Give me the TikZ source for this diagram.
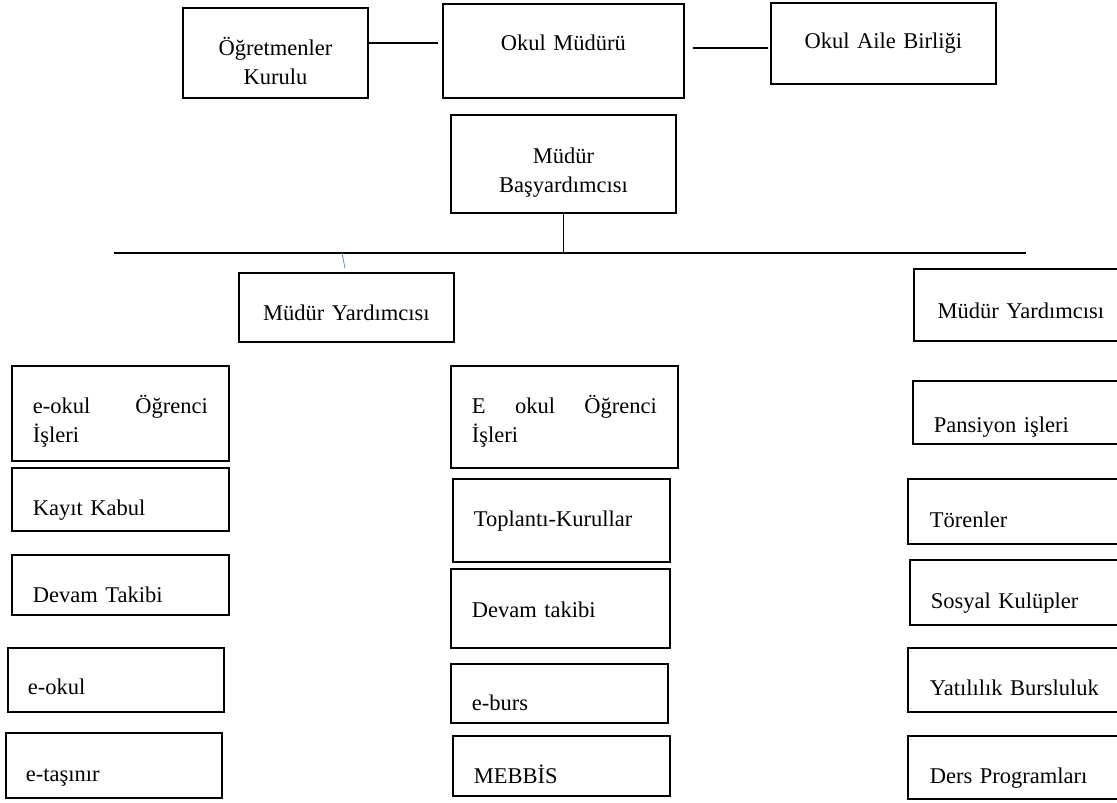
\documentclass[tikz,border=0pt]{standalone}
\usepackage{fontspec}
\setmainfont{Liberation Serif}
\usetikzlibrary{positioning, calc}
\definecolor{tickblue}{HTML}{5B9BD5}
\newdimen\pxu \pxu=0.025cm
\tikzstyle{orgbox} = [draw, line width=1.3pt, inner ysep=0pt, anchor=north west, font=\fontsize{16}{20}\selectfont]
\tikzstyle{link} = [line width=1.3pt]
\tikzstyle{tick} = [line width=0.6pt, tickblue]
\tikzset{cell/.style n args={4}{text width=#1\pxu, inner xsep=#2\pxu, text height=#3\pxu, text depth=#4\pxu}}

\begin{document}
\begin{tikzpicture}[x=0.025cm, y=-0.025cm]
        \useasboundingbox (0,0) rectangle (1117,802);
        \fill[white] (0,0) rectangle (1117,802);
        \clip (0,0) rectangle (1117,802);

        % Top row
        \node[orgbox, cell={175}{5}{48}{42}, align=center] (ogretmen) at (182,7) {Öğretmenler\\Kurulu};
        \node[orgbox, cell={231}{5}{47}{47}, align=center] (mudur) at (442,3) {Okul Müdürü};
        \node[orgbox, cell={215}{5}{46}{35}, align=center] (aile) at (770,2) {Okul Aile Birliği};

        % Deputy head
        \node[orgbox, cell={215}{5}{49}{49}, align=center] (basyard) at (450,114) {Müdür\\Başyardımcısı};

        % Assistants
        \node[orgbox, cell={205}{5}{48}{21}, align=center] (yard1) at (238,272) {Müdür Yardımcısı};
        \node[orgbox, cell={204}{5}{50}{22}, align=center] (yard2) at (913,268) {Müdür Yardımcısı};

        % Left column
        \node[orgbox, cell={175}{21}{48}{47}, align=left] (sol1) at (11,365) {e-okul\hfill Öğrenci\\İşleri};
        \node[orgbox, cell={175}{21}{48}{15}, align=left] (sol2) at (11,467) {Kayıt Kabul};
        \node[orgbox, cell={175}{21}{48}{12}, align=left] (sol3) at (11,554) {Devam Takibi};
        \node[orgbox, cell={176}{20}{47}{17}, align=left] (sol4) at (7,647) {e-okul};
        \node[orgbox, cell={176}{20}{49}{16}, align=left] (sol5) at (5,732) {e-taşınır};

        % Middle column
        \node[orgbox, cell={185}{21}{48}{54}, align=left] (orta1) at (450,365) {E\hfill okul\hfill Öğrenci\\İşleri};
        \node[orgbox, cell={175}{21}{48}{35}, align=left] (orta2) at (452,478) {Toplantı-Kurullar};
        \node[orgbox, cell={177}{21}{49}{30}, align=left] (orta3) at (450,568) {Devam takibi};
        \node[orgbox, cell={175}{21}{47}{12}, align=left] (orta4) at (450,663) {e-burs};
        \node[orgbox, cell={175}{21}{48}{12}, align=left] (orta5) at (452,735) {MEBBİS};

        % Right column
        \node[orgbox, cell={173}{21}{52}{11}, align=left] (sag1) at (912,380) {Pansiyon işleri};
        \node[orgbox, cell={176}{22}{49}{16}, align=left] (sag2) at (907,478) {Törenler};
        \node[orgbox, cell={176}{21}{49}{16}, align=left] (sag3) at (909,559) {Sosyal Kulüpler};
        \node[orgbox, cell={176}{22}{48}{16}, align=left] (sag4) at (907,647) {Yatılılık Bursluluk};
        \node[orgbox, cell={176}{22}{48}{15}, align=left] (sag5) at (907,735) {Ders Programları};

        % Lines
        \coordinate (barL) at (114,253);
        \coordinate (barR) at (1026,253);
        \coordinate (tickTop) at (342,253);
        \draw[link, shorten >=4\pxu] ([yshift=10\pxu]ogretmen.east) -- ([yshift=8\pxu]mudur.west);
        \draw[link, shorten <=8\pxu, shorten >=2\pxu] ([yshift=3\pxu]mudur.east) -- ([yshift=-4.5\pxu]aile.west);
        \draw[link] (basyard.south) -- (basyard.south |- barL);
        \draw[link] (barL) -- (barR);
        \draw[tick] (tickTop) -- ([xshift=-1.5\pxu, yshift=4\pxu]yard1.north);
    \end{tikzpicture}
\end{document}
